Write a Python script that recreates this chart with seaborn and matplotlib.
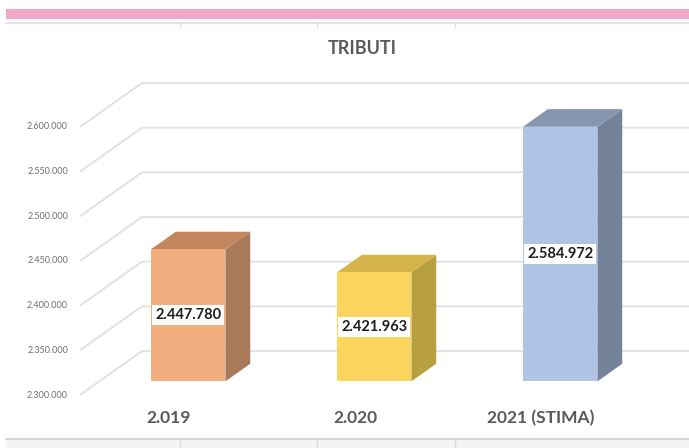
import numpy as np
import pandas as pd
import matplotlib
matplotlib.use("Agg")
import matplotlib.pyplot as plt
import matplotlib.transforms as mtransforms
from matplotlib.patches import Rectangle, Polygon
import seaborn as sns

#------------------------------------------------------------------------------------------------------------------------------
# data

anni = ['2.019', '2.020', '2021 (STIMA)']
tributi = [2447780, 2421963, 2584972]
etichette = ['2.447.780', '2.421.963', '2.584.972']
tick_valori = [2300000, 2350000, 2400000, 2450000, 2500000, 2550000, 2600000]
tick_etichette = ['2.300.000', '2.350.000', '2.400.000', '2.450.000', '2.500.000', '2.550.000', '2.600.000']

col_fronte = ['#F2AE7E', '#FCD55E', '#B0C4E6']
col_lato = ['#A9795A', '#B89F3F', '#74829A']
col_sopra = ['#C2855E', '#D3B34A', '#8796AF']

#------------------------------------------------------------------------------------------------------------------------------
# geometry of the fake 3d box (pixels of a 689x448 picture)

W, H = 689, 448
BASE = tick_valori[0]
STEP = tick_valori[1] - tick_valori[0]
PX_X0, PX_DX = 169, 186          # first category centre, category spacing
PX_Y0, PX_DY = 395, 44.67        # y of BASE on front plane, pixels per STEP
DEPTH_PX = (62, 44)              # wall depth in pixels
D0, D1 = 0.31, 0.71              # bar front / back as fraction of wall depth


def xpx(px):
    return (px - PX_X0) / PX_DX


def ypx(py):
    return BASE - (py - PX_Y0) / PX_DY * STEP


DX = DEPTH_PX[0] / PX_DX
DY = DEPTH_PX[1] / PX_DY * STEP

#------------------------------------------------------------------------------------------------------------------------------

sns.set_style("white")
plt.rcParams['font.family'] = ['Lato', 'DejaVu Sans']

fig = plt.figure(figsize=(W / 100, H / 100), dpi=100)
ax = fig.add_axes([0, 0, 1, 1])

df = pd.DataFrame({'anno': anni, 'valore': tributi})
df['altezza'] = df['valore'] - BASE

# grid: diagonal on the side wall + line on the back wall
x_left = xpx(80)
x_right = xpx(W + 5)
for v in tick_valori:
    ax.plot([x_left, x_left + DX, x_right], [v, v + DY, v + DY],
            color='#E0E0E0', lw=1.3, zorder=1, solid_capstyle='butt')

sns.barplot(data=df, x='anno', y='altezza', hue='anno', palette=col_fronte,
            saturation=1, bottom=BASE, width=0.4, legend=False, ax=ax, zorder=3,
            edgecolor='none', linewidth=0)

# push front faces into the box and add side/top faces
tx, ty = D0 * DX, D0 * DY
ddx, ddy = (D1 - D0) * DX, (D1 - D0) * DY
shift = mtransforms.Affine2D().translate(tx, ty) + ax.transData
for i, p in enumerate(ax.patches):
    p.set_transform(shift)
    x0 = p.get_x() + tx
    x1 = x0 + p.get_width()
    y0 = p.get_y() + ty
    y1 = y0 + p.get_height()
    ax.add_patch(Polygon([(x1, y0), (x1 + ddx, y0 + ddy), (x1 + ddx, y1 + ddy), (x1, y1)],
                         closed=True, facecolor=col_lato[i], edgecolor='none', zorder=2))
    ax.add_patch(Polygon([(x0, y1), (x1, y1), (x1 + ddx, y1 + ddy), (x0 + ddx, y1 + ddy)],
                         closed=True, facecolor=col_sopra[i], edgecolor='none', zorder=2))
    ax.text((x0 + x1) / 2, (y0 + y1) / 2, etichette[i], ha='center', va='center',
            fontsize=10.5, fontweight='bold', color='#1E1E1E', zorder=5,
            bbox=dict(boxstyle='square,pad=0.2', facecolor='white', edgecolor='none'))

# value axis labels
for v, lab in zip(tick_valori, tick_etichette):
    ax.text(xpx(68), v, lab, ha='right', va='center', fontsize=6.5, color='#707070')

# category labels
for i, a in enumerate(anni):
    ax.text(i, ypx(418), a, ha='center', va='center', fontsize=12.5,
            fontweight='bold', color='#595959')

ax.set_xlim(xpx(0), xpx(W))
ax.set_ylim(ypx(H), ypx(0))
ax.axis('off')

# title
fig.text(362 / W, 1 - 48 / H, 'TRIBUTI', ha='center', va='center', fontsize=13,
         fontweight='bold', color='#595959')

# pink band and sheet borders
fig.patches.append(Rectangle((6 / W, 1 - 19 / H), 1, 10 / H, transform=fig.transFigure,
                             facecolor='#F2A8C9', edgecolor='none'))
fig.lines.append(plt.Line2D([6 / W, 1], [1 - 23 / H, 1 - 23 / H], transform=fig.transFigure,
                            color='#E4E4E4', lw=1.5))
fig.patches.append(Rectangle((6 / W, 0), 1, 9 / H, transform=fig.transFigure,
                             facecolor='#F4F4F4', edgecolor='none'))
fig.lines.append(plt.Line2D([6 / W, 1], [9 / H, 9 / H], transform=fig.transFigure,
                            color='#D6D6D6', lw=1.5))
for xs in [180, 317, 455]:
    fig.lines.append(plt.Line2D([xs / W, xs / W], [0, 8 / H], transform=fig.transFigure,
                                color='#DADADA', lw=1))
    fig.lines.append(plt.Line2D([xs / W, xs / W], [1 - 27 / H, 1 - 23 / H], transform=fig.transFigure,
                                color='#E0E0E0', lw=1))

fig.savefig('out.png', dpi=100)
